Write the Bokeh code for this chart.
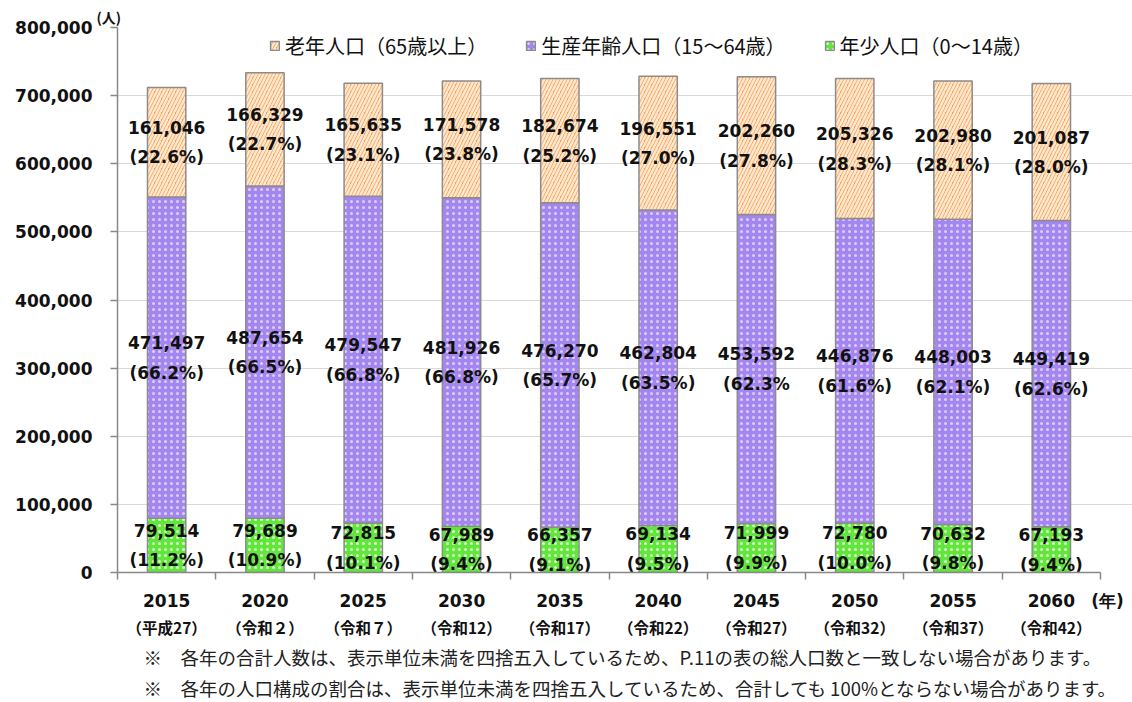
import numpy as np
from bokeh.plotting import figure
from bokeh.models import (ColumnDataSource, FixedTicker, LinearAxis, Legend, LegendItem,
                          NumeralTickFormatter, Range1d, Title)
from bokeh.core.properties import value
from bokeh.embed import file_html
from bokeh.resources import INLINE

years = ["2015", "2020", "2025", "2030", "2035", "2040", "2045", "2050", "2055", "2060"]
eras = ["（平成27）", "（令和２）", "（令和７）", "（令和12）", "（令和17）",
        "（令和22）", "（令和27）", "（令和32）", "（令和37）", "（令和42）"]
young = [79514, 79689, 72815, 67989, 66357, 69134, 71999, 72780, 70632, 67193]
working = [471497, 487654, 479547, 481926, 476270, 462804, 453592, 446876, 448003, 449419]
old = [161046, 166329, 165635, 171578, 182674, 196551, 202260, 205326, 202980, 201087]
young_pct = ["(11.2%)", "(10.9%)", "(10.1%)", "(9.4%)", "(9.1%)", "(9.5%)", "(9.9%)", "(10.0%)", "(9.8%)", "(9.4%)"]
working_pct = ["(66.2%)", "(66.5%)", "(66.8%)", "(66.8%)", "(65.7%)", "(63.5%)", "(62.3%", "(61.6%)", "(62.1%)", "(62.6%)"]
old_pct = ["(22.6%)", "(22.7%)", "(23.1%)", "(23.8%)", "(25.2%)", "(27.0%)", "(27.8%)", "(28.3%)", "(28.1%)", "(28.0%)"]
series_names = ["老年人口（65歳以上）", "生産年齢人口（15～64歳）", "年少人口（0～14歳）"]
y_unit = "(人)"
x_unit = "(年)"
notes = ["※　各年の合計人数は、表示単位未満を四捨五入しているため、P.11の表の総人口数と一致しない場合があります。",
         "※　各年の人口構成の割合は、表示単位未満を四捨五入しているため、合計しても 100%とならない場合があります。"]

x = list(range(len(years)))
young_a = np.array(young)
work_a = np.array(working)
old_a = np.array(old)
b1 = young_a
b2 = young_a + work_a
b3 = b2 + old_a

src = ColumnDataSource(dict(
    x=x, y0=[0] * len(x), y1=b1, y2=b2, y3=b3,
    ym_young=b1 / 2, ym_work=(b1 + b2) / 2, ym_old=(b2 + b3) / 2,
    t_young=[f"{v:,}" for v in young], t_work=[f"{v:,}" for v in working], t_old=[f"{v:,}" for v in old],
    p_young=young_pct, p_work=working_pct, p_old=old_pct,
))

W, H = 1132, 702
x_end = 9.5 + 32 / 98.3
p = figure(width=W, height=H, output_backend="svg", toolbar_location=None,
           x_range=Range1d(-0.5, x_end), y_range=Range1d(0, 800000),
           min_border_left=117, min_border_right=0, min_border_top=27, min_border_bottom=129)
p.outline_line_color = None
p.background_fill_color = "white"
p.xgrid.grid_line_color = None
p.ygrid.grid_line_color = "#d9d9d9"
p.ygrid.grid_line_width = 1
p.ygrid.bounds = (-0.5, 9.5)

bar_w = 0.39
common = dict(width=bar_w, line_color="#8c8c8c", line_width=1.5, source=src, hatch_color="white")
r_young = p.vbar(x="x", bottom="y0", top="y1", fill_color="#62e63c", hatch_pattern=".",
                 hatch_scale=6, hatch_weight=3, hatch_alpha=0.75, **common)
r_work = p.vbar(x="x", bottom="y1", top="y2", fill_color="#a486f0", hatch_pattern=".",
                hatch_scale=6, hatch_weight=3, hatch_alpha=0.6, **common)
r_old = p.vbar(x="x", bottom="y2", top="y3", fill_color="#f89e46", hatch_pattern="/",
               hatch_scale=7, hatch_weight=2.5, hatch_alpha=0.75, **common)

lbl_font = value("DejaVu Sans")
lbl_kw = dict(source=src, text_font=lbl_font, text_font_style="bold", text_font_size="17px",
              text_color="#111111", text_align="center", text_baseline="middle")
for ycol, tcol, pcol in [("ym_young", "t_young", "p_young"), ("ym_work", "t_work", "p_work"),
                         ("ym_old", "t_old", "p_old")]:
    p.text(x="x", y=ycol, text=tcol, y_offset=-15, **lbl_kw)
    p.text(x="x", y=ycol, text=pcol, y_offset=15, **lbl_kw)

# y axis
ya = p.yaxis[0]
ya.ticker = FixedTicker(ticks=list(range(0, 800001, 100000)))
ya.formatter = NumeralTickFormatter(format="0,0")
ya.axis_line_color = "#888888"
ya.axis_line_width = 1.5
ya.major_tick_line_color = "#888888"
ya.major_tick_line_width = 1.5
ya.major_tick_in = 0
ya.major_tick_out = 7
ya.minor_tick_line_color = None
ya.major_label_text_font = "DejaVu Sans"
ya.major_label_text_font_style = "bold"
ya.major_label_text_font_size = "17px"
ya.major_label_text_color = "#111111"
ya.major_label_standoff = 18

# x axis line with boundary ticks
xa = p.xaxis[0]
xa.bounds = (-0.5, 9.5)
xa.ticker = FixedTicker(ticks=[], minor_ticks=[i - 0.5 for i in range(len(years) + 1)])
xa.axis_line_color = "#888888"
xa.axis_line_width = 1.5
xa.major_tick_line_color = None
xa.major_tick_in = 0
xa.major_tick_out = 0
xa.minor_tick_in = 0
xa.minor_tick_out = 7
xa.minor_tick_line_color = "#888888"
xa.minor_tick_line_width = 1.5
xa.major_label_standoff = 0

# year labels (+ unit)
year_ticks = x + [9.5 + 7 / 98.3]
year_over = {i: years[i] for i in x}
year_over[year_ticks[-1]] = x_unit
xa1 = LinearAxis(ticker=FixedTicker(ticks=year_ticks, minor_ticks=[]), major_label_overrides=year_over)
xa1.axis_line_color = None
xa1.major_tick_line_color = None
xa1.minor_tick_line_color = None
xa1.major_tick_in = 0
xa1.major_tick_out = 0
xa1.major_label_text_font = "DejaVu Sans"
xa1.major_label_text_font_style = "bold"
xa1.major_label_text_font_size = "17px"
xa1.major_label_text_color = "#111111"
xa1.major_label_standoff = 11
p.add_layout(xa1, "below")

xa2 = LinearAxis(ticker=FixedTicker(ticks=x, minor_ticks=[]), major_label_overrides={i: eras[i] for i in x})
xa2.axis_line_color = None
xa2.major_tick_line_color = None
xa2.minor_tick_line_color = None
xa2.major_tick_in = 0
xa2.major_tick_out = 0
xa2.major_label_text_font = "Noto Sans CJK JP"
xa2.major_label_text_font_style = "bold"
xa2.major_label_text_font_size = "15.5px"
xa2.major_label_text_color = "#111111"
xa2.major_label_standoff = 2
p.add_layout(xa2, "below")

# footnotes
for t in notes:
    p.add_layout(Title(text=t, align="left", offset=26, text_font="Noto Sans CJK JP",
                       text_font_style="normal", text_font_size="18.5px", text_color="#222222",
                       standoff=3), "below")

# y unit
p.title.text = y_unit
p.title.align = "left"
p.title.offset = -21
p.title.text_font = "Noto Sans CJK JP"
p.title.text_font_style = "bold"
p.title.text_font_size = "14px"
p.title.text_color = "#111111"
p.title.standoff = 2

# legend
items = [LegendItem(label=series_names[0], renderers=[r_old]),
         LegendItem(label=series_names[1], renderers=[r_work]),
         LegendItem(label=series_names[2], renderers=[r_young])]
leg = Legend(items=items, orientation="horizontal", location=(152, 512),
             label_text_font="Noto Sans CJK JP", label_text_font_size="20px", label_text_color="#111111",
             glyph_width=11, glyph_height=11, label_standoff=5, spacing=38, padding=4,
             border_line_color=None, background_fill_alpha=0)
p.add_layout(leg)

open("out.html", "w").write(file_html(p, INLINE))
